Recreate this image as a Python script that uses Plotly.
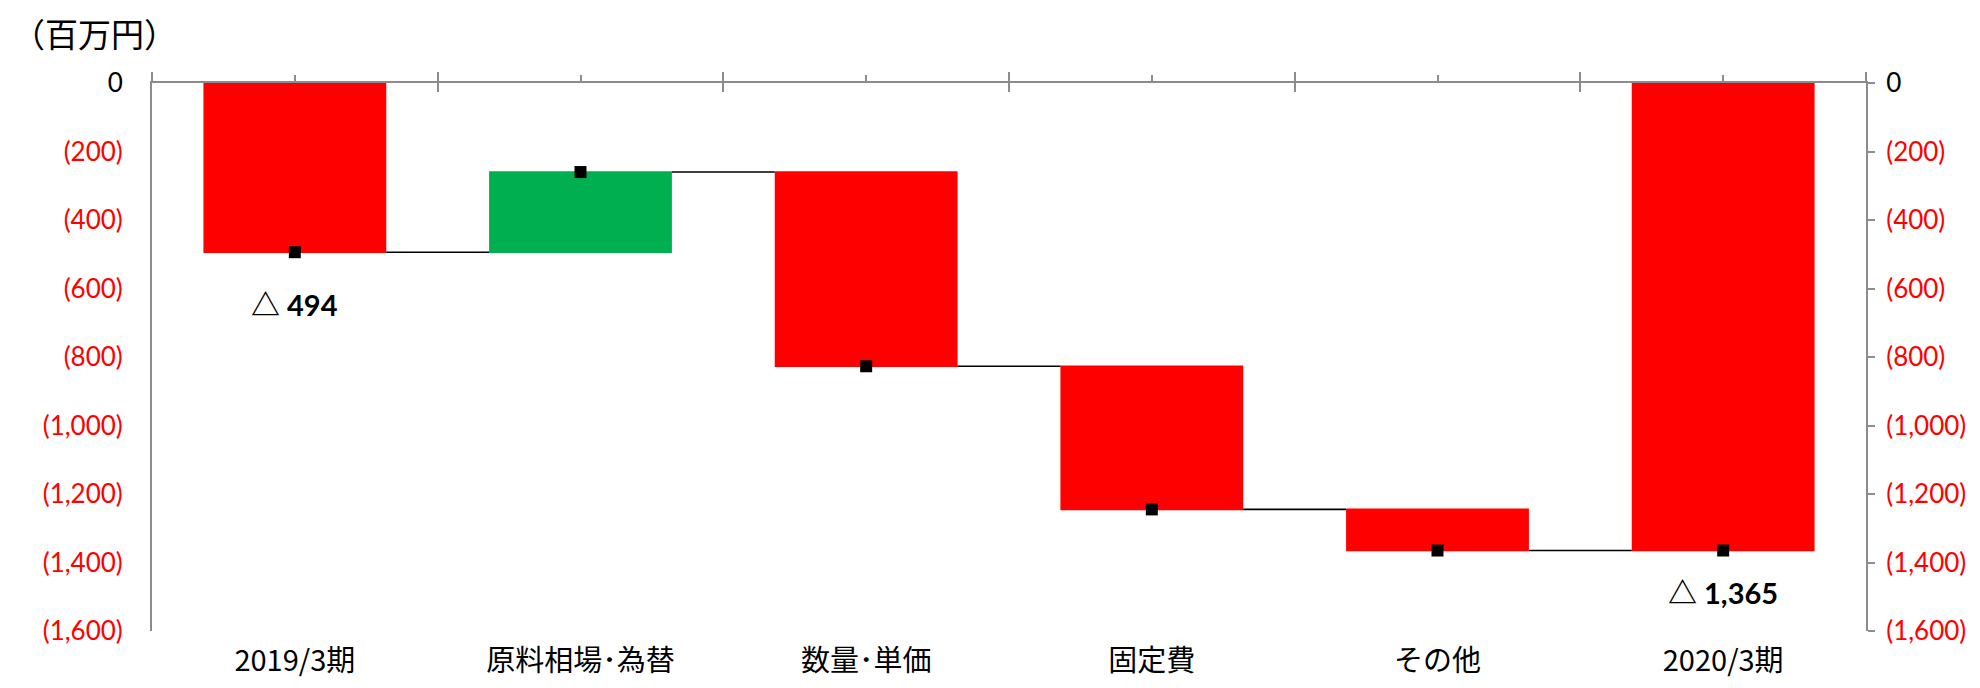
import numpy as np
import plotly.graph_objects as go

# ---- data ----
categories = ["2019/3期", "原料相場･為替", "数量･単価", "固定費", "その他", "2020/3期"]
changes = [-494, 234, -567, -418, -120, 0]
measures = ["absolute", "relative", "relative", "relative", "relative", "total"]
y_ticks = [0, -200, -400, -600, -800, -1000, -1200, -1400, -1600]
unit_label = "（百万円）"
label_idx = [0, 5]

# ---- derived ----
levels = list(np.cumsum(changes[:-1]))
levels.append(levels[-1])

def fmt(v):
    if v == 0:
        return "0"
    return '<span style="color:#FF0000">({:,})</span>'.format(abs(v))

tick_text = [fmt(v) for v in y_ticks]

RED = "#FF0000"
GREEN = "#00B050"
AXIS = "#8C8C8C"
CJK = "Noto Sans CJK JP"
NUM = "Lato, Noto Sans CJK JP"

n = len(categories)
boundaries = [i - 0.5 for i in range(n + 1)]
centers = list(range(n))
yr = [min(y_ticks), max(y_ticks)]

fig = go.Figure()
fig.add_trace(go.Waterfall(
    x=categories, y=changes, measure=measures,
    width=0.64,
    decreasing=dict(marker=dict(color=RED)),
    increasing=dict(marker=dict(color=GREEN)),
    totals=dict(marker=dict(color=RED)),
    connector=dict(line=dict(color="black", width=1.6), mode="between"),
    textinfo="none", hoverinfo="skip", showlegend=False,
))
fig.add_trace(go.Scatter(
    x=categories, y=levels, mode="markers",
    marker=dict(symbol="square", size=12, color="black"),
    hoverinfo="skip", showlegend=False,
))
# invisible helpers so the overlay axes get drawn
for xa, ya in (("x2", "y"), ("x3", "y"), ("x", "y2")):
    fig.add_trace(go.Scatter(x=[centers[0]] if xa != "x" else [categories[0]],
                             y=[levels[0]], xaxis=xa, yaxis=ya, mode="markers",
                             marker=dict(opacity=0), hoverinfo="skip",
                             showlegend=False))

fig.update_layout(
    width=1964, height=672,
    margin=dict(l=144, r=106, t=75, b=49),
    paper_bgcolor="white", plot_bgcolor="white",
    xaxis=dict(type="category", range=[-0.5, n - 0.5], automargin=False,
               showline=False, ticks="", showgrid=False, zeroline=False,
               tickfont=dict(family=CJK, size=29, color="black"),
               ticklabelstandoff=10),
    xaxis2=dict(overlaying="x", side="top", anchor="y", type="linear",
                range=[-0.5, n - 0.5], automargin=False,
                showline=True, linecolor=AXIS, linewidth=2,
                tickmode="array", tickvals=boundaries, ticks="outside",
                ticklen=9, tickwidth=1.5, tickcolor=AXIS,
                minor=dict(tickmode="array", tickvals=centers, ticks="outside",
                           ticklen=6, tickwidth=1.5, tickcolor=AXIS),
                showticklabels=False, showgrid=False, zeroline=False),
    xaxis3=dict(overlaying="x", side="top", anchor="y", type="linear",
                range=[-0.5, n - 0.5], automargin=False,
                showline=False, tickmode="array", tickvals=boundaries,
                ticks="inside", ticklen=9, tickwidth=1.5, tickcolor=AXIS,
                showticklabels=False, showgrid=False, zeroline=False),
    yaxis=dict(range=yr, tickmode="array", automargin=False,
               tickvals=y_ticks, ticktext=tick_text,
               showline=True, linecolor=AXIS, linewidth=2, ticks="",
               showgrid=False, zeroline=False,
               tickfont=dict(family=NUM, size=26, color="black"),
               ticklabelstandoff=22),
    yaxis2=dict(overlaying="y", side="right", anchor="x", automargin=False,
                range=yr, tickmode="array",
                tickvals=y_ticks, ticktext=tick_text,
                showline=True, linecolor=AXIS, linewidth=2,
                ticks="outside", ticklen=7, tickwidth=1.5, tickcolor=AXIS,
                showgrid=False, zeroline=False,
                tickfont=dict(family=NUM, size=26, color="black"),
                ticklabelstandoff=6),
)

fig.add_annotation(text=unit_label, xref="paper", yref="paper",
                   x=-0.083, y=1.091, xanchor="left", yanchor="middle",
                   showarrow=False, font=dict(family=CJK, size=33, color="black"))

label_shift = [-52, -42]
for i, s in zip(label_idx, label_shift):
    fig.add_annotation(text="△ {:,}".format(abs(int(levels[i]))),
                       x=categories[i], y=levels[i], xref="x", yref="y",
                       yshift=s, showarrow=False,
                       font=dict(family=NUM, size=29, color="black", weight="bold"))

fig.write_html("out.html")
